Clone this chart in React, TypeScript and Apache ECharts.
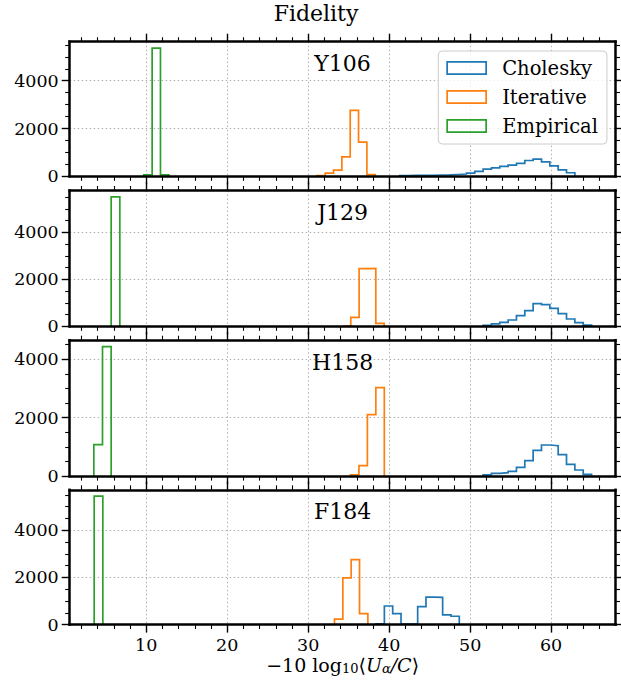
import React, { useEffect, useRef } from "react";
import * as echarts from "echarts";

// ---------- data ----------
const panelNames = ["Y106", "J129", "H158", "F184"];
const seriesNames = ["Cholesky", "Iterative", "Empirical"];
const seriesColors = ["#1f77b4", "#ff7f0e", "#2ca02c"];

const xMajorTicks = [10, 20, 30, 40, 50, 60];
const xMinorTicks = [2, 4, 6, 8, 12, 14, 16, 18, 22, 24, 26, 28, 32, 34, 36, 38, 42, 44, 46, 48, 52, 54, 56, 58, 62, 64, 66];
const yMajorTicks = [0, 2000, 4000];
const yMinorTicks = [500, 1000, 1500, 2500, 3000, 3500, 4500, 5000, 5500];
const xMin = 0.55;
const xMax = 67.95;

// histogram bins: first edge, bin width, counts per bin
const y106CholeskyStart = 41.3;
const y106CholeskyWidth = 1.03;
const y106CholeskyCounts = [30, 35, 40, 45, 55, 60, 75, 95, 137, 207, 302, 356, 414, 468, 538, 662, 716, 605, 439, 273, 149];
const y106IterativeStart = 31.07;
const y106IterativeWidth = 1.03;
const y106IterativeCounts = [30, 137, 261, 813, 2760, 1434, 70];
const y106EmpiricalStart = 9.7;
const y106EmpiricalWidth = 1.03;
const y106EmpiricalCounts = [60, 5366, 60];

const j129CholeskyStart = 51.6;
const j129CholeskyWidth = 1.03;
const j129CholeskyCounts = [40, 100, 170, 268, 451, 664, 962, 919, 766, 536, 311, 153, 50];
const j129IterativeStart = 34.23;
const j129IterativeWidth = 1.03;
const j129IterativeCounts = [30, 383, 2451, 2468, 128];
const j129EmpiricalStart = 5.67;
const j129EmpiricalWidth = 1.07;
const j129EmpiricalCounts = [5502];

const h158CholeskyStart = 51.6;
const h158CholeskyWidth = 1.03;
const h158CholeskyCounts = [45, 95, 118, 164, 301, 528, 883, 1065, 1041, 733, 404, 209, 60];
const h158IterativeStart = 35.22;
const h158IterativeWidth = 1.045;
const h158IterativeCounts = [40, 356, 2103, 3027];
const h158EmpiricalStart = 3.53;
const h158EmpiricalWidth = 1.07;
const h158EmpiricalCounts = [1075, 4432];

const f184CholeskyStart = 38.38;
const f184CholeskyWidth = 1.028;
const f184CholeskyCounts = [30, 789, 464, 20, 20, 759, 1169, 1156, 409, 354];
const f184IterativeStart = 33.25;
const f184IterativeWidth = 1.03;
const f184IterativeCounts = [228, 1983, 2759, 464];
const f184EmpiricalStart = 3.57;
const f184EmpiricalWidth = 1.07;
const f184EmpiricalCounts = [5443];

// ---------- layout ----------
const fontFamily = "'DejaVu Serif', serif";
const plotLeft = 69.7;
const plotRight = 615.5;
const panelTops = [41.7, 190.5, 340.2, 489.8];
const panelBottoms = [176.3, 326.3, 476.1, 624.6];

type Hist = [number, number, number[]];

function histPoints(start: number, width: number, counts: number[]) {
  const pts: number[][] = [[start, 0]];
  counts.forEach((c, i) => {
    pts.push([start + i * width, c]);
    pts.push([start + (i + 1) * width, c]);
  });
  pts.push([start + counts.length * width, 0]);
  return pts;
}

function buildOption() {
  const panelHists: Hist[][] = [
    [
      [y106CholeskyStart, y106CholeskyWidth, y106CholeskyCounts],
      [y106IterativeStart, y106IterativeWidth, y106IterativeCounts],
      [y106EmpiricalStart, y106EmpiricalWidth, y106EmpiricalCounts],
    ],
    [
      [j129CholeskyStart, j129CholeskyWidth, j129CholeskyCounts],
      [j129IterativeStart, j129IterativeWidth, j129IterativeCounts],
      [j129EmpiricalStart, j129EmpiricalWidth, j129EmpiricalCounts],
    ],
    [
      [h158CholeskyStart, h158CholeskyWidth, h158CholeskyCounts],
      [h158IterativeStart, h158IterativeWidth, h158IterativeCounts],
      [h158EmpiricalStart, h158EmpiricalWidth, h158EmpiricalCounts],
    ],
    [
      [f184CholeskyStart, f184CholeskyWidth, f184CholeskyCounts],
      [f184IterativeStart, f184IterativeWidth, f184IterativeCounts],
      [f184EmpiricalStart, f184EmpiricalWidth, f184EmpiricalCounts],
    ],
  ];

  const grids: any[] = [];
  const xAxes: any[] = [];
  const yAxes: any[] = [];
  const series: any[] = [];
  const graphics: any[] = [];

  const spine = { show: true, onZero: false, lineStyle: { color: "#000", width: 2.5, cap: "square" } };
  const majorTickStyle = { color: "#000", width: 1.4 };
  const minorTickStyle = { color: "#000", width: 1.1 };
  const gridLineStyle = { color: "#b0b0b0", width: 1, type: [1.5, 2.5] };
  const plainNum = (v: number) => String(Math.round(v));

  panelHists.forEach((hists, g) => {
    const top = panelTops[g];
    const bottom = panelBottoms[g];
    grids.push({ left: plotLeft, width: plotRight - plotLeft, top, height: bottom - top, show: false });
    let maxCount = 0;
    hists.forEach((h) => h[2].forEach((c) => { if (c > maxCount) maxCount = c; }));
    const yMax = maxCount * 1.05;

    const baseX = {
      type: "value", gridIndex: g, min: xMin, max: xMax,
      axisLine: { show: false, onZero: false }, axisTick: { show: false }, axisLabel: { show: false },
      splitLine: { show: false }, z: 5,
    };
    xAxes.push(
      {
        ...baseX, position: "bottom", axisLine: spine,
        axisTick: { show: true, customValues: xMajorTicks, length: 8, lineStyle: majorTickStyle },
        axisLabel: { show: g === 3, customValues: xMajorTicks, margin: 11, fontSize: 17.5, fontFamily, color: "#000", formatter: plainNum },
      },
      { ...baseX, position: "bottom", axisTick: { show: true, customValues: xMinorTicks, length: 4.5, lineStyle: minorTickStyle } },
      { ...baseX, position: "top", axisLine: spine, axisTick: { show: true, customValues: xMajorTicks, length: 8, lineStyle: majorTickStyle } },
      { ...baseX, position: "top", axisTick: { show: true, customValues: xMinorTicks, length: 4.5, lineStyle: minorTickStyle } },
      { ...baseX, position: "bottom", z: 0, axisTick: { show: false, customValues: xMajorTicks }, splitLine: { show: true, lineStyle: gridLineStyle } }
    );

    const yMinor = yMinorTicks.filter((v) => v <= yMax);
    const baseY = {
      type: "value", gridIndex: g, min: 0, max: yMax,
      axisLine: { show: false, onZero: false }, axisTick: { show: false }, axisLabel: { show: false },
      splitLine: { show: false }, z: 5,
    };
    yAxes.push(
      {
        ...baseY, position: "left", axisLine: spine,
        axisTick: { show: true, customValues: yMajorTicks, length: 8, lineStyle: majorTickStyle },
        axisLabel: { show: true, customValues: yMajorTicks, margin: 11, fontSize: 17.5, fontFamily, color: "#000", formatter: plainNum },
      },
      { ...baseY, position: "left", axisTick: { show: true, customValues: yMinor, length: 4.5, lineStyle: minorTickStyle } },
      { ...baseY, position: "right", axisLine: spine, axisTick: { show: true, customValues: yMajorTicks, length: 8, lineStyle: majorTickStyle } },
      { ...baseY, position: "right", axisTick: { show: true, customValues: yMinor, length: 4.5, lineStyle: minorTickStyle } },
      { ...baseY, position: "left", z: 0, axisTick: { show: false, customValues: yMajorTicks }, splitLine: { show: true, lineStyle: gridLineStyle } }
    );

    hists.forEach((h, k) => {
      series.push({
        type: "line",
        name: seriesNames[k],
        xAxisIndex: 5 * g,
        yAxisIndex: 5 * g,
        data: histPoints(h[0], h[1], h[2]),
        showSymbol: false,
        symbol: "none",
        silent: true,
        z: 2,
        lineStyle: { color: seriesColors[k], width: 1.7, join: "miter" },
        itemStyle: { color: seriesColors[k] },
      });
    });

    graphics.push({
      type: "text",
      x: (plotLeft + plotRight) / 2,
      y: top + 22,
      z: 10,
      style: { text: panelNames[g], fontFamily, fontSize: 22, fill: "#000", align: "center", verticalAlign: "middle" },
    });
  });

  graphics.push({
    type: "text",
    x: 316,
    y: 13.5,
    z: 10,
    style: { text: "Fidelity", fontFamily, fontSize: 22, fill: "#000", align: "center", verticalAlign: "middle" },
  });

  const fs = 19;
  graphics.push({
    type: "text",
    x: (plotLeft + plotRight) / 2,
    y: 665,
    z: 10,
    style: {
      text: "{n|\u221210 log}{s|10}{n|\u27E8}{i|U}{is|\u03B1}{i|/C}{n|\u27E9}",
      align: "center",
      verticalAlign: "middle",
      fontFamily,
      fontSize: fs,
      fill: "#000",
      rich: {
        n: { fontFamily, fontSize: fs, fill: "#000", lineHeight: 20, verticalAlign: "middle" },
        i: { fontFamily, fontSize: fs, fontStyle: "italic", fill: "#000", lineHeight: 20, verticalAlign: "middle" },
        s: { fontFamily, fontSize: 13, fill: "#000", lineHeight: 12, verticalAlign: "bottom" },
        is: { fontFamily, fontSize: 13, fontStyle: "italic", fill: "#000", lineHeight: 12, verticalAlign: "bottom" },
      },
    },
  });

  return {
    animation: false,
    backgroundColor: "#ffffff",
    grid: grids,
    xAxis: xAxes,
    yAxis: yAxes,
    series,
    graphic: graphics,
    legend: {
      data: seriesNames.map((n, i) => ({
        name: n,
        itemStyle: { color: "transparent", borderColor: seriesColors[i], borderWidth: 1.7 },
      })),
      orient: "vertical",
      left: 438.3,
      top: 51,
      icon: "rect",
      itemWidth: 39,
      itemHeight: 12.3,
      itemGap: 9,
      padding: [7, 9, 8, 8],
      backgroundColor: "rgba(255,255,255,0.8)",
      borderColor: "#cccccc",
      borderWidth: 1,
      borderRadius: 4,
      selectedMode: false,
      z: 6,
      textStyle: { fontFamily, fontSize: 19.5, color: "#000", padding: [0, 0, 0, 11] },
    },
  };
}

export default function App() {
  const ref = useRef<HTMLDivElement>(null);
  useEffect(() => {
    if (!ref.current) return;
    const chart = echarts.init(ref.current, null, { renderer: "svg" });
    chart.setOption(buildOption() as any);
    return () => chart.dispose();
  }, []);
  return (
    <div
      ref={ref}
      style={{ position: "absolute", left: 0, top: 0, width: 621, height: 681, background: "#fff" }}
    />
  );
}
